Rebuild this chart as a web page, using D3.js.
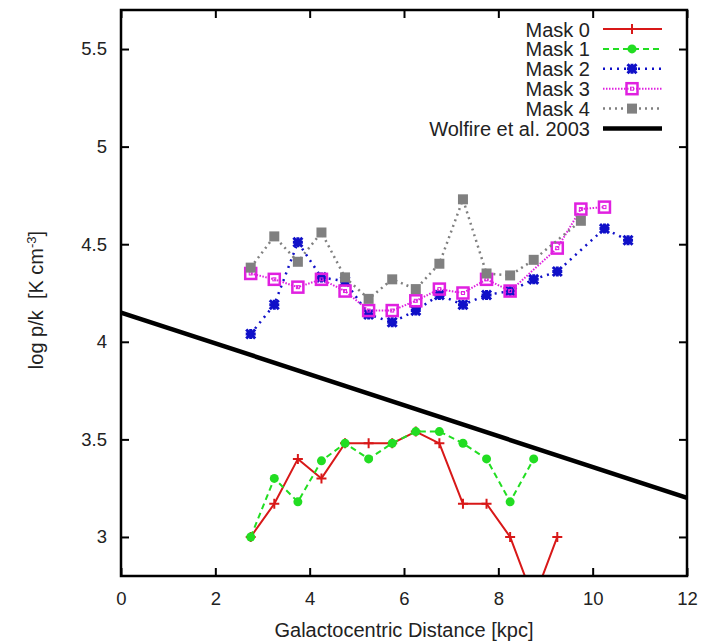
<!DOCTYPE html>
<html><head><meta charset="utf-8">
<script src="https://cdn.jsdelivr.net/npm/d3@7"></script>
<style>body{margin:0;background:#fff}svg{font-family:"Liberation Sans",Arial,sans-serif}text{white-space:pre}</style>
</head><body><svg id="c" width="710" height="641"></svg>
<script>
const mask0X = [2.75,3.25,3.75,4.25,4.75,5.25,5.75,6.25,6.75,7.25,7.75,8.25,8.75,9.25];
const mask0Y = [3.00,3.17,3.40,3.30,3.48,3.48,3.48,3.54,3.48,3.17,3.17,3.00,2.68,3.00];
const mask1X = [2.75,3.25,3.75,4.25,4.75,5.25,5.75,6.25,6.75,7.25,7.75,8.25,8.75];
const mask1Y = [3.00,3.30,3.18,3.39,3.48,3.40,3.48,3.54,3.54,3.48,3.40,3.18,3.40];
const mask2X = [2.75,3.25,3.75,4.25,4.75,5.25,5.75,6.25,6.75,7.25,7.75,8.25,8.75,9.25,10.25,10.75];
const mask2Y = [4.04,4.19,4.51,4.33,4.31,4.14,4.10,4.16,4.24,4.19,4.24,4.26,4.32,4.36,4.58,4.52];
const mask3X = [2.75,3.25,3.75,4.25,4.75,5.25,5.75,6.25,6.75,7.25,7.75,8.25,9.25,9.75,10.25];
const mask3Y = [4.35,4.32,4.28,4.32,4.26,4.16,4.16,4.21,4.27,4.25,4.32,4.26,4.48,4.68,4.69];
const mask4X = [2.75,3.25,3.75,4.25,4.75,5.25,5.75,6.25,6.75,7.25,7.75,8.25,8.75,9.75];
const mask4Y = [4.38,4.54,4.41,4.56,4.33,4.22,4.32,4.27,4.40,4.73,4.35,4.34,4.42,4.62];
const wolfireX = [0,12];
const wolfireY = [4.15,3.20];
const seriesNames = ["Mask 0","Mask 1","Mask 2","Mask 3","Mask 4","Wolfire et al. 2003"];
const xTicks = [0,2,4,6,8,10,12];
const yTicks = [3,3.5,4,4.5,5,5.5];

const svg = d3.select("#c");
const L=121, R=687, T=10, B=576;
const x = d3.scaleLinear().domain([0,12]).range([L,R]);
const y = d3.scaleLinear().domain([2.8,5.7]).range([B,T]);

svg.append("defs").append("clipPath").attr("id","clip")
  .append("rect").attr("x",L).attr("y",T).attr("width",R-L).attr("height",B-T);

const series = [
  {name:seriesNames[0], xs:mask0X, ys:mask0Y, color:"#d81818", dash:null, w:2, marker:"plus"},
  {name:seriesNames[1], xs:mask1X, ys:mask1Y, color:"#22dd22", dash:"6,4", w:2, marker:"circle"},
  {name:seriesNames[2], xs:mask2X, ys:mask2Y, color:"#1010c8", dash:"2,5", w:2.5, marker:"star"},
  {name:seriesNames[3], xs:mask3X, ys:mask3Y, color:"#e020e0", dash:"1.5,1.5", w:2, marker:"osq"},
  {name:seriesNames[4], xs:mask4X, ys:mask4Y, color:"#808080", dash:"2,4", w:2.5, marker:"sq"},
  {name:seriesNames[5], xs:wolfireX, ys:wolfireY, color:"#000000", dash:null, w:4.5, marker:null}
];

function drawMarker(g, type, cx, cy, color){
  if(type==="plus"){
    g.append("path").attr("d",`M${cx-5},${cy}H${cx+5}M${cx},${cy-5}V${cy+5}`)
     .attr("stroke",color).attr("stroke-width",2).attr("fill","none");
  } else if(type==="circle"){
    g.append("circle").attr("cx",cx).attr("cy",cy).attr("r",4.5).attr("fill",color);
  } else if(type==="star"){
    g.append("path").attr("d",`M${cx-5},${cy}H${cx+5}M${cx},${cy-5}V${cy+5}M${cx-4.5},${cy-4.5}L${cx+4.5},${cy+4.5}M${cx-4.5},${cy+4.5}L${cx+4.5},${cy-4.5}`)
     .attr("stroke",color).attr("stroke-width",3).attr("fill","none");
  } else if(type==="osq"){
    g.append("rect").attr("x",cx-5.5).attr("y",cy-5.5).attr("width",11).attr("height",11)
     .attr("fill","none").attr("stroke",color).attr("stroke-width",2.5);
    g.append("rect").attr("x",cx-1.5).attr("y",cy-1.5).attr("width",3).attr("height",3)
     .attr("fill","none").attr("stroke",color).attr("stroke-width",1);
  } else if(type==="sq"){
    g.append("rect").attr("x",cx-5).attr("y",cy-5).attr("width",10).attr("height",10).attr("fill",color);
  }
}

const plot = svg.append("g").attr("clip-path","url(#clip)");
const line = d3.line().x(d=>x(d[0])).y(d=>y(d[1]));
series.forEach(s=>{
  const pts = s.xs.map((v,i)=>[v,s.ys[i]]);
  plot.append("path").attr("d",line(pts)).attr("fill","none").attr("stroke",s.color)
    .attr("stroke-width",s.w).attr("stroke-dasharray",s.dash).attr("stroke-linejoin","round");
  if(s.marker){
    pts.forEach(p=>drawMarker(plot,s.marker,x(p[0]),y(p[1]),s.color));
  }
});

// axes
const fs = 18.5;
const ax = svg.append("g").attr("transform",`translate(0,${B})`)
  .call(d3.axisBottom(x).tickValues(xTicks).tickSize(-8).tickPadding(16).tickFormat(d3.format("d")));
const axT = svg.append("g").attr("transform",`translate(0,${T})`)
  .call(d3.axisTop(x).tickValues(xTicks).tickSize(-8).tickFormat(""));
const ay = svg.append("g").attr("transform",`translate(${L},0)`)
  .call(d3.axisLeft(y).tickValues(yTicks).tickSize(-8).tickPadding(14).tickFormat(d=>d3.format("")(d)));
const ayR = svg.append("g").attr("transform",`translate(${R},0)`)
  .call(d3.axisRight(y).tickValues(yTicks).tickSize(-8).tickFormat(""));
[ax,axT,ay,ayR].forEach(a=>{
  a.select(".domain").remove();
  a.selectAll(".tick line").attr("stroke","#000").attr("stroke-width",2);
  a.selectAll("text").attr("font-size",fs).attr("fill","#222").attr("font-family","Liberation Sans, Arial, sans-serif");
});
svg.append("rect").attr("x",L).attr("y",T).attr("width",R-L).attr("height",B-T)
  .attr("fill","none").attr("stroke","#000").attr("stroke-width",2.5);

svg.append("text").attr("x",404).attr("y",637).attr("text-anchor","middle")
  .attr("font-size",20).attr("fill","#222").text("Galactocentric Distance [kpc]");
const yl = svg.append("text").attr("transform","translate(43,300) rotate(-90)")
  .attr("text-anchor","middle").attr("font-size",20).attr("fill","#222");
yl.append("tspan").text("log p/k  [K cm");
yl.append("tspan").attr("baseline-shift","super").attr("font-size",13).text("-3");
yl.append("tspan").text("]");

// legend
const lg = svg.append("g");
series.forEach((s,i)=>{
  const ly = 29 + i*19.9;
  lg.append("text").attr("x",590).attr("y",ly+7.5).attr("text-anchor","end")
    .attr("font-size",20).attr("fill","#222").text(s.name);
  lg.append("line").attr("x1",603).attr("x2",662).attr("y1",ly).attr("y2",ly)
    .attr("stroke",s.color).attr("stroke-width",s.w).attr("stroke-dasharray",s.dash);
  if(s.marker) drawMarker(lg,s.marker,632,ly,s.color);
});
</script></body></html>
